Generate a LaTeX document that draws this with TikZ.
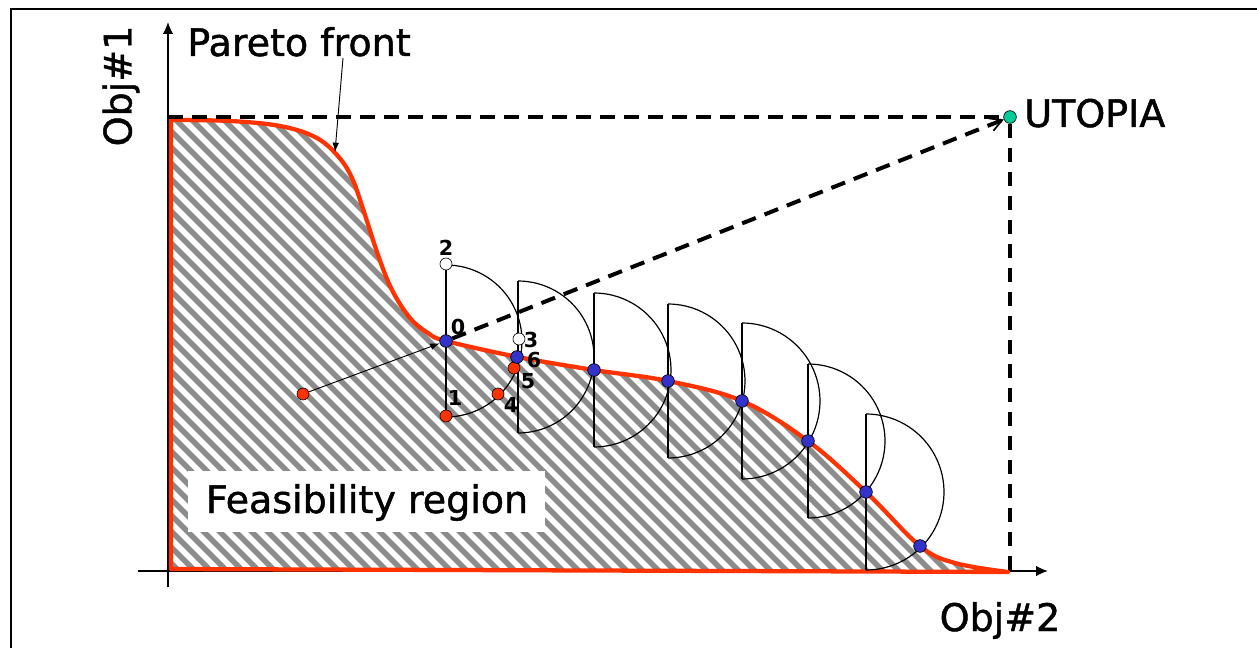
\documentclass[tikz,border=0pt]{standalone}
\usepackage{fontspec}
\setmainfont{DejaVu Sans}
\newfontfamily\heavyfont{DejaVu Sans}[UprightFeatures={FakeBold=1.2}]
\usetikzlibrary{arrows.meta}
\definecolor{pred}{RGB}{255,51,0}
\definecolor{pblue}{RGB}{51,51,204}
\definecolor{pgreen}{RGB}{0,204,153}
\definecolor{stripegray}{RGB}{140,140,140}
\begin{document}
\begin{tikzpicture}[x=0.75pt,y=-0.75pt,
 bigtext/.style={font=\heavyfont\fontsize{28.5}{34}\selectfont, inner sep=0pt},
 numlbl/.style={font=\bfseries\fontsize{15.5}{17}\selectfont, inner sep=0pt},
 dot/.style={circle, draw=black, line width=0.5pt, minimum size=9.5pt, inner sep=0pt},
 bluedot/.style={dot, fill=pblue},
 reddot/.style={dot, fill=pred, minimum size=9pt},
 hollowdot/.style={dot, fill=white, minimum size=9pt},
 greendot/.style={dot, fill=pgreen},
 dshape/.style={draw=black, line width=0.9pt},
 dashline/.style={draw=black, line width=3pt, dash pattern=on 11pt off 7pt},
 axisline/.style={draw=black, line width=1.2pt},
 stripe/.style={draw=stripegray, line width=4pt},
 front/.style={draw=pred, line width=3.2pt, line join=round},
 thinarrow/.style={draw=black, line width=0.7pt, -{Latex[length=7pt,width=5pt]}}
]
\useasboundingbox (0,0) rectangle (1257,648);
% frame
\draw[line width=1.5pt] (11,648) -- (11,9) -- (1257,9);
% axes
\draw[axisline, -{Latex[length=9pt,width=8pt]}] (168,587) -- (168,22);
\draw[axisline, -{Latex[length=9pt,width=8pt]}] (138,571) -- (1048,571);
% hatched feasibility region
\begin{scope}
\clip plot[smooth, tension=0.6] coordinates {(171,120) (230,121) (280,126) (315,137) (337,155) (352,178) (365,215) (378,255) (392,290) (410,318) (428,333) (446,341) (518,357) (594,370) (668,381) (742,401) (808,441) (866,492) (920,546) (955,563) (1008,572)} -- (171,569) -- cycle;
\fill[white] (160,100) rectangle (1020,580);
\foreach \k in {0,...,90} \draw[stripe] ({-340+16*\k},100) -- ++(520,520);
\end{scope}
\draw[front] plot[smooth, tension=0.6] coordinates {(171,120) (230,121) (280,126) (315,137) (337,155) (352,178) (365,215) (378,255) (392,290) (410,318) (428,333) (446,341) (518,357) (594,370) (668,381) (742,401) (808,441) (866,492) (920,546) (955,563) (1008,572)} -- (171,569) -- cycle;
% feasibility label
\fill[white] (188,471) rectangle (545,532);
\node[bigtext, anchor=base] (fr) at (367,513) {Feasibility region};
% texts
\node[bigtext, anchor=base] (pf) at (299,56) {Pareto front};
\node[bigtext, rotate=90] (o1) at (121,86) {Obj\#1};
\node[bigtext, anchor=base west] (ut) at (1024,127) {UTOPIA};
\node[bigtext, anchor=base] (o2) at (1000,631) {Obj\#2};
% utopia point and dashed lines
\node[greendot] (u) at (1010,117) {};
\coordinate (ytop) at (168,117);
\coordinate (xend) at (1010,571);
\draw[dashline] (ytop) -- (u);
\draw[dashline] (u) -- (xend);
% D shapes
\foreach \cx/\cy/\r in {446/341/76, 518/357/76, 594/370/77, 668/381/77, 742/401/78, 808/441/77, 866/492/78}{
  \draw[dshape] (\cx,\cy-\r) -- (\cx,\cy+\r);
  \draw[dshape] plot[domain=-90:90, samples=50] ({\cx+\r*cos(\x)},{\cy+\r*sin(\x)});
}
% points
\node[reddot] (s) at (303,394) {};
\node[bluedot] (p0) at (446,341) {};
\node[reddot] (p1) at (446,416) {};
\node[hollowdot] (p2) at (446,264) {};
\node[hollowdot] (p3) at (519,339) {};
\node[reddot] (p5) at (514,368) {};
\node[reddot] (p4) at (498,394) {};
\node[bluedot] (p6) at (517,357) {};
\node[bluedot] (b1) at (594,370) {};
\node[bluedot] (b2) at (668,381) {};
\node[bluedot] (b3) at (742,401) {};
\node[bluedot] (b4) at (808,441) {};
\node[bluedot] (b5) at (866,492) {};
\node[bluedot] (b6) at (920,546) {};
% connectors
\draw[thinarrow] (s) -- (p0);
\draw[dashline, -{Straight Barb[length=9pt,width=10pt,line width=1.3pt]}] (p0) -- (u);
\coordinate (pfa) at (343,58);
\coordinate (pfb) at (335,152);
\draw[thinarrow] (pfa) -- (pfb);
% point labels
\node[numlbl] (l2) at (446,248) {2};
\node[numlbl] (l0) at (458,327) {0};
\node[numlbl] (l3) at (531,340) {3};
\node[numlbl] (l6) at (534,360) {6};
\node[numlbl] (l5) at (528,381) {5};
\node[numlbl] (l4) at (511,405) {4};
\node[numlbl] (l1) at (455,398) {1};
\end{tikzpicture}
\end{document}
